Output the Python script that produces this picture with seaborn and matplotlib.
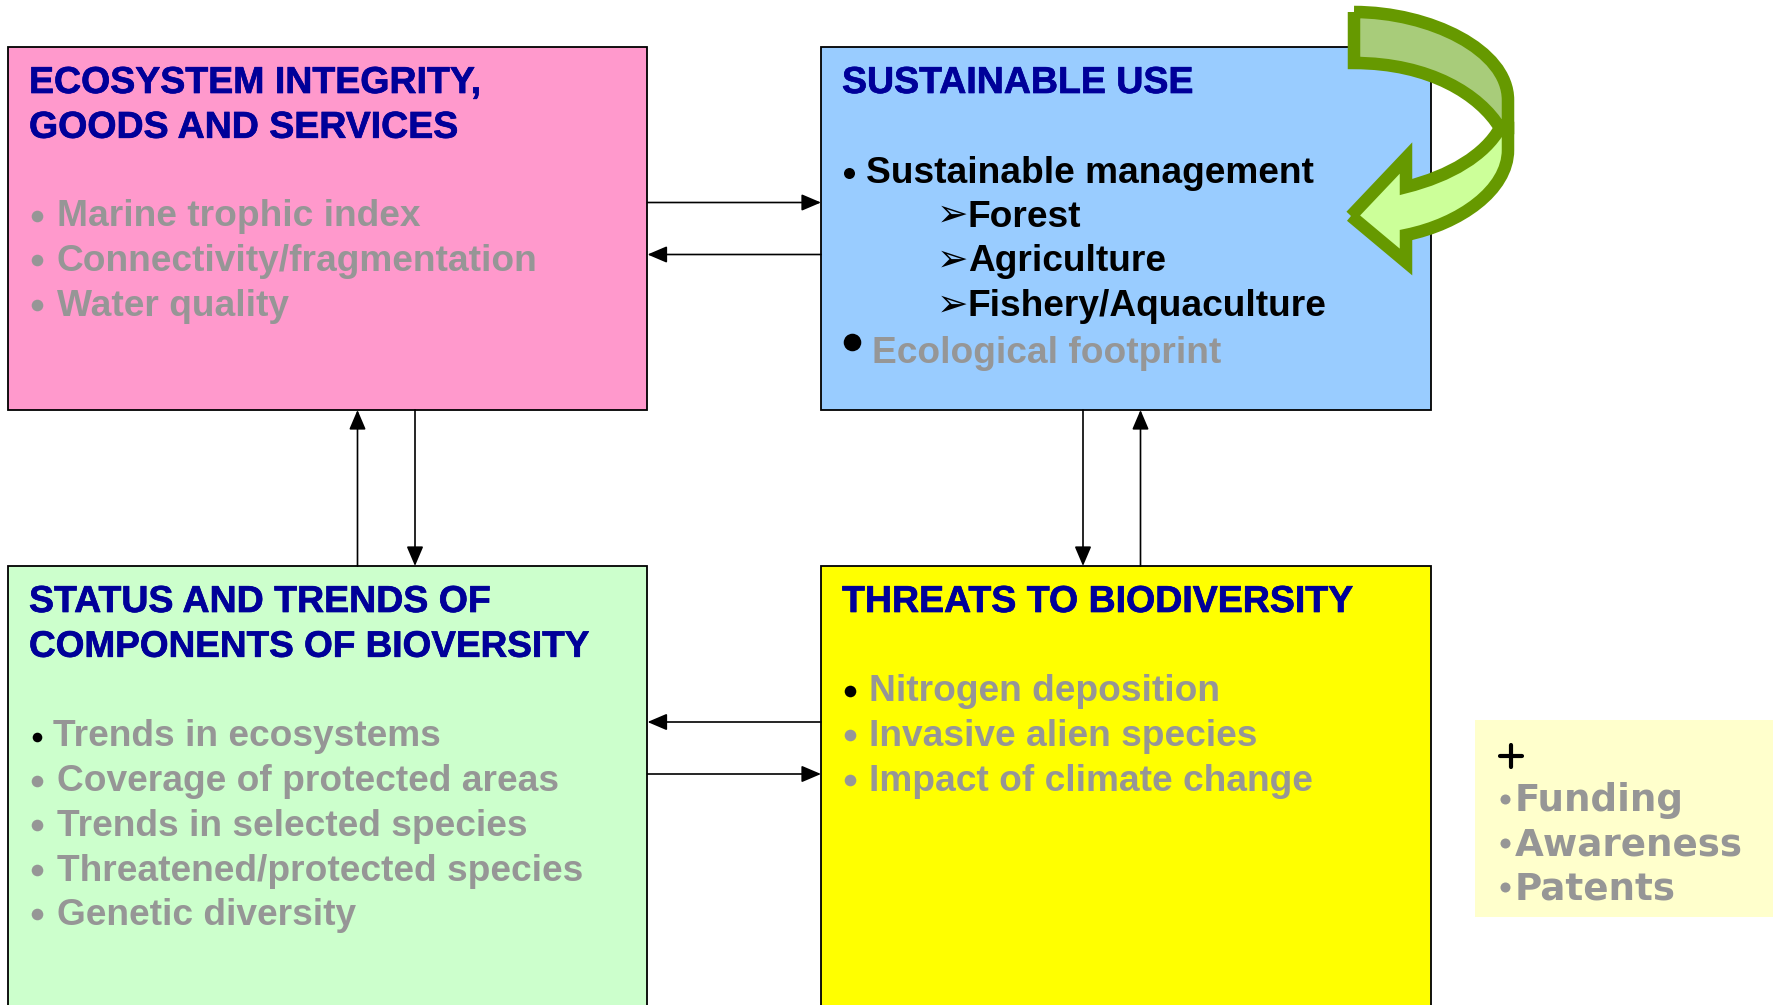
import matplotlib

matplotlib.use("Agg")
import matplotlib.patheffects as pe
import matplotlib.pyplot as plt
import pandas as pd
import seaborn as sns
from matplotlib.patches import PathPatch, Rectangle
from matplotlib.path import Path

sns.set_theme(style="white")
plt.rcParams["font.family"] = ["Liberation Sans", "DejaVu Sans"]

# texts
eco_title = ["ECOSYSTEM INTEGRITY,", "GOODS AND SERVICES"]
eco_items = ["Marine trophic index", "Connectivity/fragmentation", "Water quality"]
use_title = ["SUSTAINABLE USE"]
use_main = "Sustainable management"
use_subs = ["Forest", "Agriculture", "Fishery/Aquaculture"]
use_grey = "Ecological footprint"
status_title = ["STATUS AND TRENDS OF", "COMPONENTS OF BIOVERSITY"]
status_items = [
    "Trends in ecosystems",
    "Coverage of protected areas",
    "Trends in selected species",
    "Threatened/protected species",
    "Genetic diversity",
]
threat_title = ["THREATS TO BIODIVERSITY"]
threat_items = ["Nitrogen deposition", "Invasive alien species", "Impact of climate change"]
extra_items = ["Funding", "Awareness", "Patents"]

# colours
PINK, BLUE, MINT, YELLOW, PALE = "#FF99CC", "#99CCFF", "#CCFFCC", "#FFFF00", "#FFFFCC"
NAVY, GREY = "#000099", "#969696"
OLIVE, BAND_DARK, BAND_LIGHT = "#669900", "#A8CC7A", "#CCFF99"

PITCH = 44.8
FS = 26.7
FS_HEAD = 27.0

fig = plt.figure(figsize=(17.74, 10.05), dpi=100)
ax = fig.add_axes([0, 0, 1, 1])

# boxes
for x0, y0, x1, y1, col in [
    (8.5, 47, 647.5, 410, PINK),
    (821.5, 47, 1431, 410, BLUE),
    (8.5, 566, 647.5, 1015, MINT),
    (821.5, 566, 1431, 1015, YELLOW),
]:
    ax.add_patch(Rectangle((x0, y0), x1 - x0, y1 - y0, fc=col, ec="black", lw=1.3, zorder=1))
ax.add_patch(Rectangle((1475, 720), 310, 197, fc=PALE, ec="none", zorder=1))


def put(x, y, s, col, fs=FS, **kw):
    ax.text(x, y, s, color=col, fontsize=fs, fontweight="bold", va="baseline", ha="left", zorder=3, **kw)


def block(x, base, lines, col, fs=FS, **kw):
    for i, s in enumerate(lines):
        put(x, base + i * PITCH, s, col, fs=fs, **kw)


# headings, a bit heavier than plain bold
heavy = [pe.withStroke(linewidth=0.5, foreground=NAVY)]
block(29, 93, eco_title, NAVY, fs=FS_HEAD, path_effects=heavy)
block(842, 93, use_title, NAVY, fs=FS_HEAD, path_effects=heavy)
put(29, 612, status_title[0], NAVY, fs=FS_HEAD, path_effects=heavy)
put(29, 656.8, status_title[1], NAVY, fs=26.6, path_effects=heavy)
block(842, 612, threat_title, NAVY, fs=FS_HEAD, path_effects=heavy)

# body text
block(57, 226, eco_items, GREY)
put(866, 183, use_main, "black")
block(968, 226.5, use_subs, "black")
for i in range(3):
    ax.text(937, 226 + i * PITCH, "\u27a2", color="black", fontsize=27, family="DejaVu Sans",
            va="baseline", ha="left", zorder=3)
put(872, 362.5, use_grey, GREY)
put(53, 746, status_items[0], GREY)
block(57.5, 791, status_items[1:], GREY)
block(869, 701, threat_items, GREY)

# pale box
ax.plot([1500, 1522], [756, 756], color="black", lw=3, zorder=3)
ax.plot([1511, 1511], [745, 767], color="black", lw=3, zorder=3)
for i, s in enumerate(extra_items):
    ax.text(1515, 811 + i * 44.2, s, color=GREY, fontsize=26.8, fontweight="bold", family="DejaVu Sans",
            va="baseline", ha="left", zorder=3)

# bullets
bullets = pd.DataFrame(
    [
        (37, 216, GREY, 70),
        (37, 260, GREY, 70),
        (37, 305, GREY, 70),
        (849, 173, "black", 63),
        (852, 342, "black", 160),
        (37, 737, "black", 48),
        (37, 781, GREY, 70),
        (37, 825, GREY, 70),
        (37, 870, GREY, 70),
        (37, 914, GREY, 70),
        (850, 691, "black", 70),
        (850, 735, GREY, 70),
        (850, 780, GREY, 70),
        (1505, 799, GREY, 52),
        (1505, 843, GREY, 52),
        (1505, 887, GREY, 52),
    ],
    columns=["x", "y", "c", "s"],
)
for (c, s), g in bullets.groupby(["c", "s"]):
    sns.scatterplot(data=g, x="x", y="y", color=c, s=s, linewidth=0, ax=ax, zorder=3, legend=False)

# connectors
for start, end in [
    ((647.5, 202.5), (821, 202.5)),
    ((821, 254.5), (647.5, 254.5)),
    ((821, 722), (647.5, 722)),
    ((647.5, 774), (821, 774)),
    ((357.5, 566), (357.5, 410)),
    ((415, 410), (415, 566)),
    ((1083, 410), (1083, 566)),
    ((1140.5, 566), (1140.5, 410)),
]:
    ax.annotate(
        "",
        xy=end,
        xytext=start,
        arrowprops=dict(arrowstyle="-|>,head_length=0.75,head_width=0.32", color="black", lw=1.2,
                        mutation_scale=16, shrinkA=0, shrinkB=0),
        zorder=2,
    )

# curved arrow
C, L, M = Path.CURVE4, Path.LINETO, Path.MOVETO
upper = Path(
    [(1354, 12), (1430, 12), (1508, 50), (1508, 100), (1508, 128), (1500, 128),
     (1480, 95), (1430, 63), (1354, 63), (1354, 12)],
    [M, C, C, C, L, L, C, C, C, L],
)
lower = Path(
    [(1351, 216), (1406, 158), (1406, 187), (1450, 176), (1485, 155), (1500, 128), (1508, 128),
     (1508, 150), (1508, 190), (1460, 224), (1406, 235), (1406, 262), (1351, 216)],
    [M, L, L, C, C, C, L, L, C, C, C, L, L],
)
for path, col in [(lower, BAND_LIGHT), (upper, BAND_DARK)]:
    ax.add_patch(PathPatch(path, fc=col, ec=OLIVE, lw=9, joinstyle="miter", zorder=4))

ax.set_xlim(0, 1774)
ax.set_ylim(1005, 0)
ax.set_xlabel("")
ax.set_ylabel("")
ax.axis("off")
fig.savefig("out.png", dpi=100)
